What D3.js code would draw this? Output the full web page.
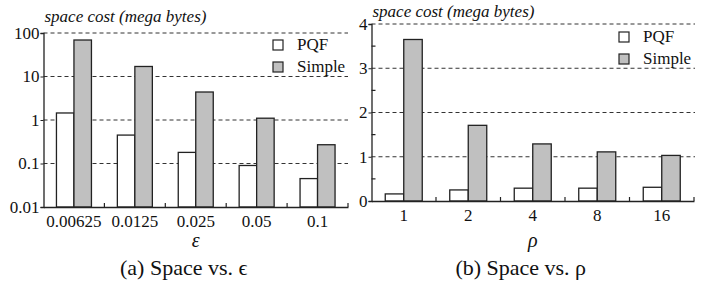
<!DOCTYPE html>
<html>
<head>
<meta charset="utf-8">
<script src="https://cdn.jsdelivr.net/npm/d3@7"></script>
<style>
  body { margin: 0; background: #fff; }
</style>
</head>
<body>
<svg id="chart" width="716" height="289"></svg>
<script>
// (a) space vs epsilon, log scale
var epsCats = ["0.00625", "0.0125", "0.025", "0.05", "0.1"];
var epsPQF = [1.45, 0.45, 0.18, 0.09, 0.045];
var epsSimple = [69, 17, 4.4, 1.1, 0.27];
var epsTicks = [0.01, 0.1, 1, 10, 100];

// (b) space vs rho, linear scale
var rhoCats = ["1", "2", "4", "8", "16"];
var rhoPQF = [0.16, 0.25, 0.29, 0.29, 0.31];
var rhoSimple = [3.65, 1.71, 1.29, 1.11, 1.03];
var rhoTicks = [0, 1, 2, 3, 4];

var seriesNames = ["PQF", "Simple"];
var fills = ["#ffffff", "#c0c0c0"];

// pick the first serif face that is really installed
var ctx = document.createElement("canvas").getContext("2d");
function hasFont(f) {
  var s = "mmmmwwwlli0.00625 Space";
  ctx.font = "40px monospace";
  var a = ctx.measureText(s).width;
  ctx.font = "40px '" + f + "', monospace";
  return ctx.measureText(s).width != a;
}
var cands = ["Liberation Serif", "DejaVu Serif", "Noto Serif", "Times New Roman", "Tinos", "FreeSerif", "Nimbus Roman", "Nimbus Roman No9 L"];
var serif = "serif";
for (var i = 0; i < cands.length; i++) {
  if (hasFont(cands[i])) { serif = "'" + cands[i] + "', serif"; break; }
}

var svg = d3.select("#chart");

function txt(sel, size) {
  return sel.style("font-family", serif).style("font-size", size + "px").attr("fill", "#111");
}

function panel(o) {
  var g = svg.append("g");
  var x = d3.scaleBand().domain(o.cats).range([o.x0, o.x1]);
  var y = o.y;
  var bw = o.barW;

  // gridlines
  g.selectAll(".grid").data(o.ticks.slice(1)).enter().append("line")
    .attr("x1", o.x0).attr("x2", o.gridEnd)
    .attr("y1", function(d) { return y(d); }).attr("y2", function(d) { return y(d); })
    .attr("stroke", "#333").attr("stroke-width", 1).attr("stroke-dasharray", "4,3");

  // bars
  o.cats.forEach(function(c, i) {
    var cx = x(c) + x.bandwidth() / 2;
    [o.a[i], o.b[i]].forEach(function(v, k) {
      g.append("rect")
        .attr("x", cx - bw + k * bw).attr("width", bw)
        .attr("y", y(v)).attr("height", y(o.base) - y(v))
        .attr("fill", fills[k]).attr("stroke", "#222").attr("stroke-width", 1.3);
    });
  });

  // axes
  var xa = d3.axisBottom(x).tickSize(0).tickPadding(8);
  var xg = g.append("g").attr("transform", "translate(0," + y(o.base) + ")").call(xa);
  xg.select(".domain").attr("stroke", "#222").attr("stroke-width", 1.3);
  txt(xg.selectAll("text"), 17);
  // tick marks between groups
  g.selectAll(".xt").data(o.cats.slice(1).concat(["end"])).enter().append("line")
    .attr("x1", function(d) { return d == "end" ? o.x1 : x(d); })
    .attr("x2", function(d) { return d == "end" ? o.x1 : x(d); })
    .attr("y1", y(o.base)).attr("y2", y(o.base) - 4)
    .attr("stroke", "#222").attr("stroke-width", 1.2);

  var ya = d3.axisLeft(y).tickValues(o.ticks).tickFormat(o.fmt).tickSize(3).tickPadding(1);
  var yg = g.append("g").attr("transform", "translate(" + o.x0 + ",0)").call(ya);
  yg.select(".domain").attr("stroke", "#222").attr("stroke-width", 1.3);
  yg.selectAll("line").attr("stroke", "#222");
  txt(yg.selectAll("text"), 17);

  if (o.minor) {
    g.selectAll(".mt").data(o.minor).enter().append("line")
      .attr("x1", o.x0).attr("x2", o.x0 + 4)
      .attr("y1", function(d) { return y(d); }).attr("y2", function(d) { return y(d); })
      .attr("stroke", "#222").attr("stroke-width", 1.2);
  }

  txt(g.append("text").attr("x", o.x0 + 1).attr("y", o.titleY), 17)
    .style("font-style", "italic").text("space cost (mega bytes)");

  // legend
  seriesNames.forEach(function(s, k) {
    g.append("rect").attr("x", o.legX).attr("y", o.legY + k * 22)
      .attr("width", 10).attr("height", 10)
      .attr("fill", fills[k]).attr("stroke", "#222").attr("stroke-width", 1.2);
    txt(g.append("text").attr("x", o.legX + 24).attr("y", o.legY + 10 + k * 22), 17).text(s);
  });

  var mid = (o.x0 + o.x1) / 2;
  txt(g.append("text").attr("x", mid).attr("y", 247).attr("text-anchor", "middle"), 20)
    .style("font-style", "italic").text(o.sym);
  txt(g.append("text").attr("x", mid - 12).attr("y", 275).attr("text-anchor", "middle"), 22)
    .text(o.caption);
}

panel({
  cats: epsCats, a: epsPQF, b: epsSimple, ticks: epsTicks,
  x0: 43.5, x1: 348, gridEnd: 348, barW: 17.5,
  y: d3.scaleLog().domain([0.01, 100]).range([207, 33]), base: 0.01,
  fmt: function(d) { return String(d); },
  titleY: 22, legX: 273, legY: 40,
  sym: "ε", caption: "(a) Space vs. ϵ"
});

panel({
  cats: rhoCats, a: rhoPQF, b: rhoSimple, ticks: rhoTicks,
  x0: 371.5, x1: 694, gridEnd: 695, barW: 18.5,
  y: d3.scaleLinear().domain([0, 4]).range([201, 24]), base: 0,
  fmt: d3.format("d"), minor: [0.5, 1.5, 2.5, 3.5],
  titleY: 17, legX: 619, legY: 32,
  sym: "ρ", caption: "(b) Space vs. ρ"
});
</script>
</body>
</html>
